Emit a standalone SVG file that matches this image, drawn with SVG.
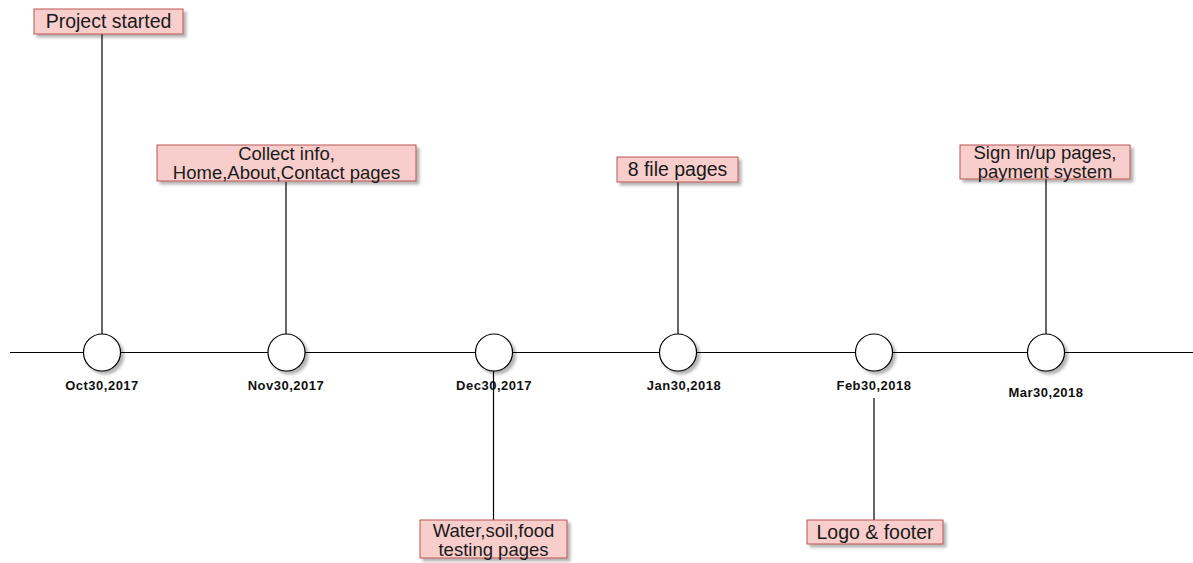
<svg xmlns="http://www.w3.org/2000/svg" width="1193" height="563" viewBox="0 0 1193 563">
  <defs>
    <filter id="shadow" x="-20%" y="-20%" width="150%" height="160%">
      <feGaussianBlur in="SourceAlpha" stdDeviation="1.5"/>
      <feOffset dx="3" dy="3" result="b"/>
      <feComponentTransfer><feFuncA type="linear" slope="0.3"/></feComponentTransfer>
      <feMerge><feMergeNode/><feMergeNode in="SourceGraphic"/></feMerge>
    </filter>
  </defs>
  <style>
    .box { fill: #f8cecc; stroke: #b85450; stroke-width: 1; filter: url(#shadow); }
    .dot { fill: #ffffff; stroke: #000000; stroke-width: 1.2; filter: url(#shadow); }
    .conn { stroke: #000000; stroke-width: 1.2; fill: none; }
    .lbl { font-family: "Liberation Sans", Arial, sans-serif; font-size: 19.5px; fill: #1a1a1a; text-anchor: middle; }
    .lbl2 { font-family: "Liberation Sans", Arial, sans-serif; font-size: 18.5px; fill: #1a1a1a; text-anchor: middle; }
    .date { font-family: "Liberation Sans", Arial, sans-serif; font-size: 13px; font-weight: bold; letter-spacing: 0.5px; fill: #111111; text-anchor: middle; }
  </style>
  <rect width="1193" height="563" fill="#ffffff"/>

  <g id="connectors">
    <line class="conn" x1="10" y1="352.5" x2="1193" y2="352.5"/>
    <line class="conn" x1="102" y1="34" x2="102" y2="334"/>
    <line class="conn" x1="286" y1="182" x2="286" y2="334"/>
    <line class="conn" x1="493.5" y1="370" x2="493.5" y2="520"/>
    <line class="conn" x1="678" y1="182" x2="678" y2="334"/>
    <line class="conn" x1="874" y1="398" x2="874" y2="520"/>
    <line class="conn" x1="1046" y1="179" x2="1046" y2="334"/>
  </g>

  <g id="oct">
    <circle class="dot" cx="102" cy="352.5" r="18.5"/>
    <text class="date" x="102" y="390">Oct30,2017</text>
  </g>
  <g id="nov">
    <circle class="dot" cx="286.5" cy="352.5" r="18.5"/>
    <text class="date" x="286" y="390">Nov30,2017</text>
  </g>
  <g id="dec">
    <circle class="dot" cx="494" cy="352.5" r="18.5"/>
    <text class="date" x="494" y="390">Dec30,2017</text>
  </g>
  <g id="jan">
    <circle class="dot" cx="678" cy="352.5" r="18.5"/>
    <text class="date" x="684" y="390">Jan30,2018</text>
  </g>
  <g id="feb">
    <circle class="dot" cx="874" cy="352.5" r="18.5"/>
    <text class="date" x="874" y="390">Feb30,2018</text>
  </g>
  <g id="mar">
    <circle class="dot" cx="1046" cy="352.5" r="18.5"/>
    <text class="date" x="1046" y="397">Mar30,2018</text>
  </g>

  <g id="project-started">
    <rect class="box" x="34" y="9" width="149" height="25"/>
    <text class="lbl" x="108.5" y="28">Project started</text>
  </g>
  <g id="collect-info">
    <rect class="box" x="157" y="145" width="259" height="36"/>
    <text class="lbl2" x="286.5" y="160">Collect info,</text>
    <text class="lbl2" x="286.5" y="179">Home,About,Contact pages</text>
  </g>
  <g id="water-soil-food">
    <rect class="box" x="420" y="520" width="147" height="38"/>
    <text class="lbl2" x="493.5" y="537">Water,soil,food</text>
    <text class="lbl2" x="493.5" y="556">testing pages</text>
  </g>
  <g id="file-pages">
    <rect class="box" x="617" y="157" width="121" height="25"/>
    <text class="lbl" x="677.5" y="176">8 file pages</text>
  </g>
  <g id="logo-footer">
    <rect class="box" x="807" y="520" width="136" height="24"/>
    <text class="lbl" x="875" y="539">Logo &amp; footer</text>
  </g>
  <g id="sign-in">
    <rect class="box" x="960" y="145" width="170" height="34"/>
    <text class="lbl2" x="1045" y="159">Sign in/up pages,</text>
    <text class="lbl2" x="1045" y="178">payment system</text>
  </g>
</svg>
